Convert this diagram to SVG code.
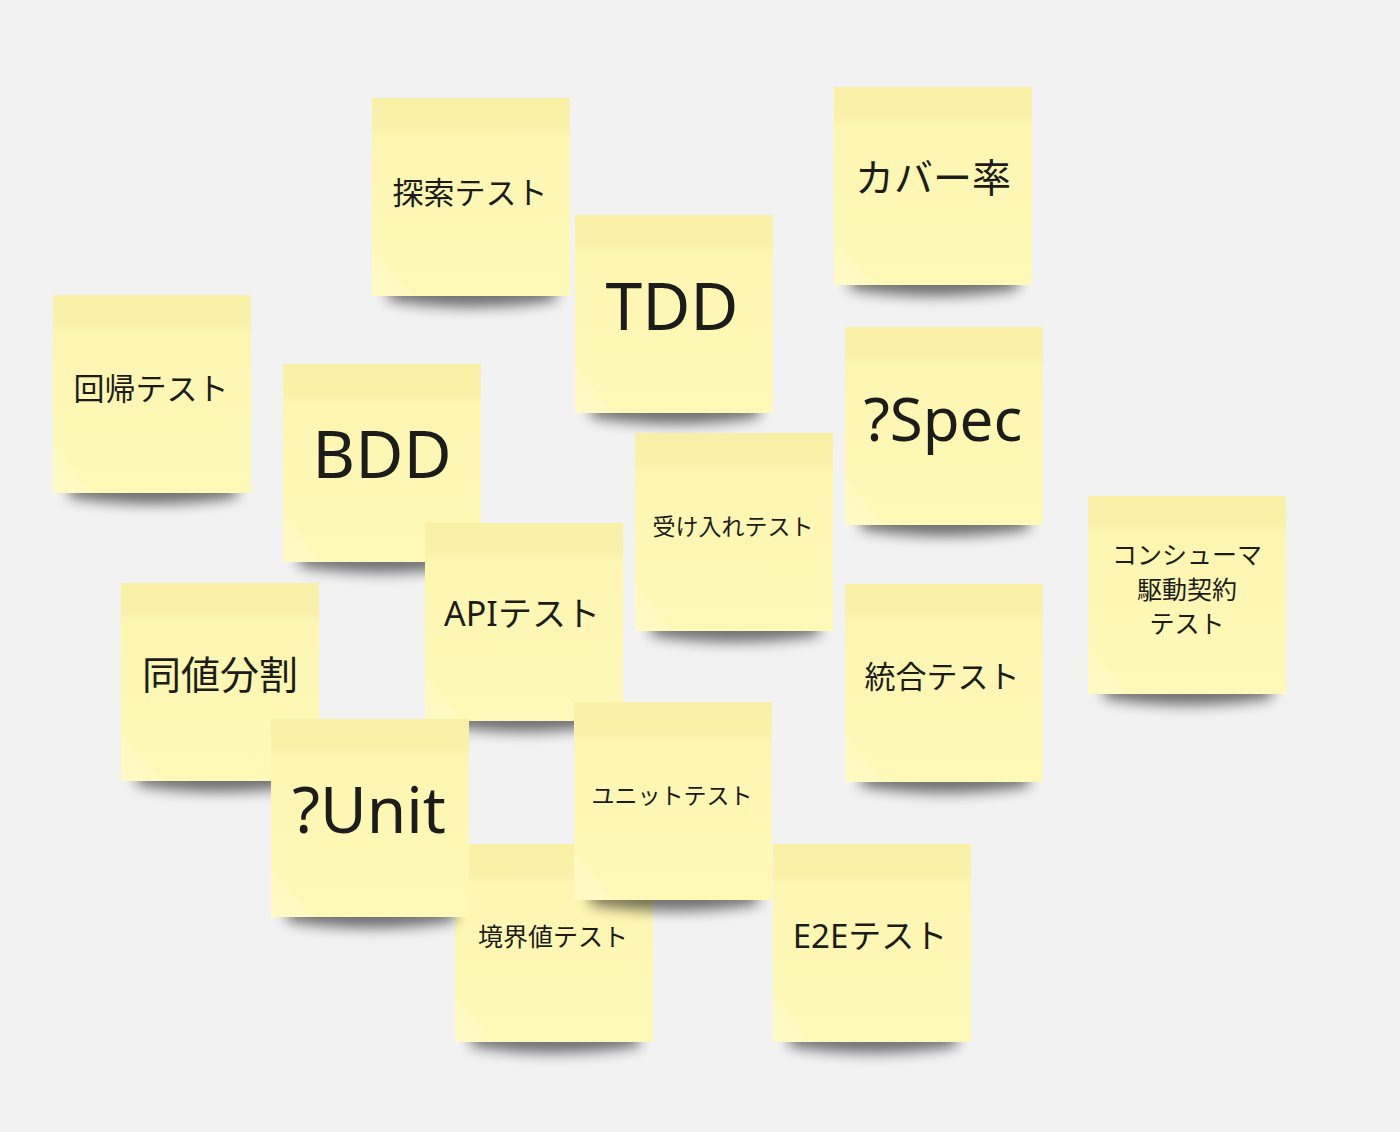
<svg xmlns="http://www.w3.org/2000/svg" xmlns:xlink="http://www.w3.org/1999/xlink" width="1400" height="1132" viewBox="0 0 1400 1132">
<style>
.t{font-family:"Noto Sans","Noto Sans CJK JP",sans-serif;fill:#1c1c1c;text-anchor:middle}
.sh{fill:#000;opacity:.55;filter:url(#blur)}
</style>
<defs>
<filter id="blur" x="-20%" y="-100%" width="140%" height="300%"><feGaussianBlur stdDeviation="7"/></filter>
<linearGradient id="ng" x1="0" y1="0" x2="0" y2="1">
<stop offset="0" stop-color="#f9f0a6"/>
<stop offset="0.15" stop-color="#faf2aa"/>
<stop offset="0.2" stop-color="#fdf6b1"/>
<stop offset="1" stop-color="#fff9b8"/>
</linearGradient>
<linearGradient id="fold" x1="0" y1="1" x2="1" y2="0">
<stop offset="0" stop-color="#fff" stop-opacity=".2"/>
<stop offset="1" stop-color="#fff" stop-opacity="0"/>
</linearGradient>
<g id="nb">
<path class="sh" d="M16,186 L184,186 L184,202 Q100,216 16,202 Z"/>
<rect x="0" y="0" width="198" height="198" fill="url(#ng)"/>
<path d="M0,150 L40,198 L0,198 Z" fill="url(#fold)"/>
</g>
</defs>
<rect width="1400" height="1132" fill="#f2f2f2"/>
<g id="connectors"/>
<g id="n-tansaku"><use xlink:href="#nb" x="372" y="98"/><text class="t" x="470" y="204" font-size="31">探索テスト</text></g>
<g id="n-coverage"><use xlink:href="#nb" x="834" y="87"/><text class="t" x="933" y="192" font-size="39">カバー率</text></g>
<g id="n-tdd"><use xlink:href="#nb" x="575" y="215"/><text class="t" x="672" y="330" font-size="66">TDD</text></g>
<g id="n-kaiki"><use xlink:href="#nb" x="53" y="295"/><text class="t" x="151" y="400" font-size="31">回帰テスト</text></g>
<g id="n-bdd"><use xlink:href="#nb" x="283" y="364"/><text class="t" x="382" y="478" font-size="66">BDD</text></g>
<g id="n-spec"><use xlink:href="#nb" x="845" y="327"/><text class="t" x="943" y="441" font-size="60">?Spec</text></g>
<g id="n-ukeire"><use xlink:href="#nb" x="635" y="433"/><text class="t" x="733" y="535" font-size="23">受け入れテスト</text></g>
<g id="n-consumer"><use xlink:href="#nb" x="1088" y="496"/><text class="t" x="1187" y="564" font-size="25">コンシューマ</text><text class="t" x="1187" y="599" font-size="25">駆動契約</text><text class="t" x="1187" y="633" font-size="25">テスト</text></g>
<g id="n-api"><use xlink:href="#nb" x="425" y="523"/><text class="t" x="522" y="626" font-size="34">APIテスト</text></g>
<g id="n-douchi"><use xlink:href="#nb" x="121" y="583"/><text class="t" x="220" y="689" font-size="39">同値分割</text></g>
<g id="n-tougou"><use xlink:href="#nb" x="845" y="584"/><text class="t" x="942" y="688" font-size="31">統合テスト</text></g>
<g id="n-kyoukai"><use xlink:href="#nb" x="455" y="844"/><text class="t" x="553" y="946" font-size="25">境界値テスト</text></g>
<g id="n-unit"><use xlink:href="#nb" x="271" y="719"/><text class="t" x="369" y="833" font-size="64">?Unit</text></g>
<g id="n-unittest"><use xlink:href="#nb" x="574" y="702"/><text class="t" x="672" y="804" font-size="23">ユニットテスト</text></g>
<g id="n-e2e"><use xlink:href="#nb" x="773" y="844"/><text class="t" x="870" y="948" font-size="33">E2Eテスト</text></g>
</svg>
